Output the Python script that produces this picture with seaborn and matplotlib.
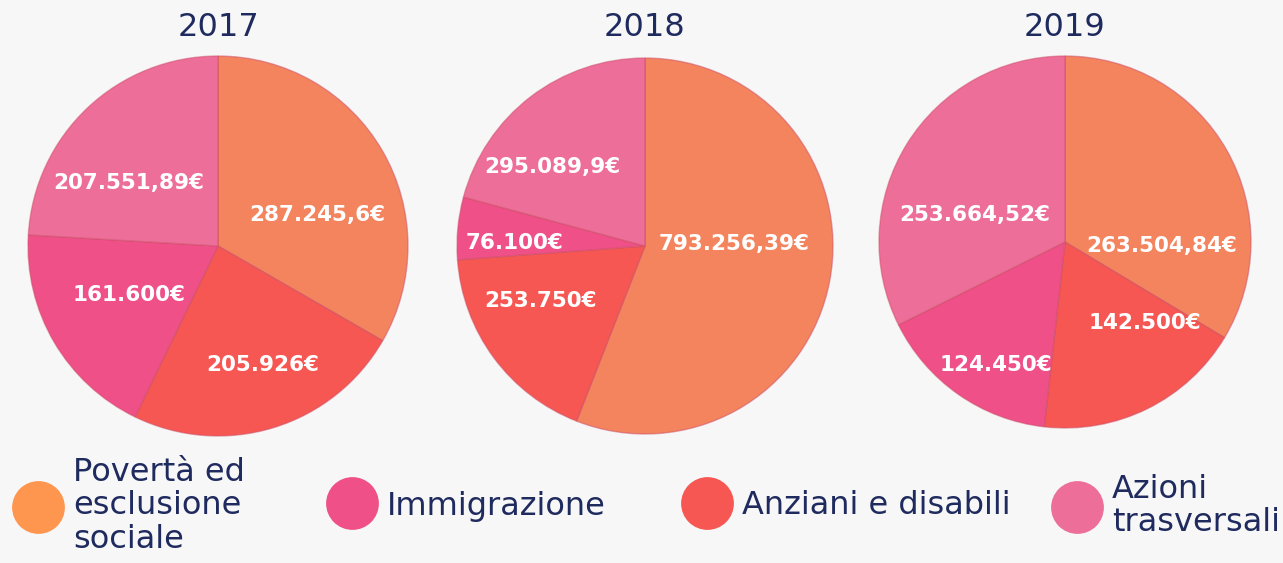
import numpy as np
import matplotlib
matplotlib.use('Agg')
import matplotlib.pyplot as plt
import seaborn as sns
from matplotlib.lines import Line2D

sns.set_theme(style='white')
plt.rcParams['font.family'] = ['DejaVu Sans']

# ===== DATI =====
anni = ['2017', '2018', '2019']
# ordine in senso orario: Povertà, Anziani, Immigrazione, Azioni
categorie = ['Povertà ed\nesclusione\nsociale', 'Anziani e disabili', 'Immigrazione', 'Azioni\ntrasversali']
valori_2017 = [287245.6, 205926, 161600, 207551.89]
valori_2018 = [793256.39, 253750, 76100, 295089.9]
valori_2019 = [263504.84, 142500, 124450, 253664.52]
etichette_2017 = ['287.245,6€', '205.926€', '161.600€', '207.551,89€']
etichette_2018 = ['793.256,39€', '253.750€', '76.100€', '295.089,9€']
etichette_2019 = ['263.504,84€', '142.500€', '124.450€', '253.664,52€']

colori_fette = sns.color_palette(['#F4845E', '#F65752', '#EE5087', '#EE6E9A'])
colori_legenda = ['#FF9650', '#F65752', '#EE5087', '#EE6E9A']
ordine_legenda = [0, 2, 1, 3]
blu_scuro = '#1F2B5E'

W, H = 1283, 563
fig = plt.figure(figsize=(W / 100, H / 100), dpi=100)
fig.patch.set_facecolor('#F7F7F7')

# centro e raggio (pixel) di ogni torta
layout = [(218, 246, 190), (645, 246, 188), (1065, 242, 186)]
dati = [(valori_2017, etichette_2017), (valori_2018, etichette_2018), (valori_2019, etichette_2019)]
# piccoli spostamenti delle etichette (pixel, dx a destra, dy in basso)
spostamenti = [
    [(1, 26), (11, 10), (9, -9), (-11, 20)],
    [(-22, -23), (-14, -12), (-18, 8), (-24, 11)],
    [(0, 59), (30, -19), (-5, 32), (5, 32)],
]

for anno, (cx, cy, r), (valori, etichette), sp in zip(anni, layout, dati, spostamenti):
    ax = fig.add_axes([(cx - r) / W, 1 - (cy + r) / H, 2 * r / W, 2 * r / H])
    it = iter(etichette)
    wedges, texts, autotexts = ax.pie(
        valori, colors=colori_fette, startangle=90, counterclock=False,
        autopct=lambda p: next(it), pctdistance=0.6, radius=1,
        wedgeprops={'edgecolor': (0.8, 0.3, 0.4, 0.5), 'linewidth': 1})
    for t, (dx, dy) in zip(autotexts, sp):
        x, y = t.get_position()
        t.set_position((x + dx / r, y - dy / r))
        t.set_color('white')
        t.set_fontweight('bold')
        t.set_fontsize(15.5)
    ax.set_xlim(-1, 1)
    ax.set_ylim(-1, 1)
    ax.axis('off')
    fig.text(cx / W, 1 - 27 / H, anno, ha='center', va='center', fontsize=23, color=blu_scuro)

# ===== LEGENDA =====
# una voce per volta, così le colonne stanno dove sono nel grafico originale
x_legenda = [22, 336, 691, 1061]
for xl, i in zip(x_legenda, ordine_legenda):
    h = Line2D([0], [0], marker='o', linestyle='', markersize=38,
               markerfacecolor=colori_legenda[i], markeredgecolor='none')
    leg = fig.legend([h], [categorie[i]], loc='center left',
                     bbox_to_anchor=(xl / W, 1 - 506 / H),
                     frameon=False, fontsize=23, labelcolor=blu_scuro,
                     handlelength=1.0, handletextpad=0.6,
                     borderaxespad=0, borderpad=0)
    for t in leg.get_texts():
        t.set_linespacing(1.1)

plt.savefig('out.png', dpi=100, facecolor=fig.get_facecolor())
plt.close()
